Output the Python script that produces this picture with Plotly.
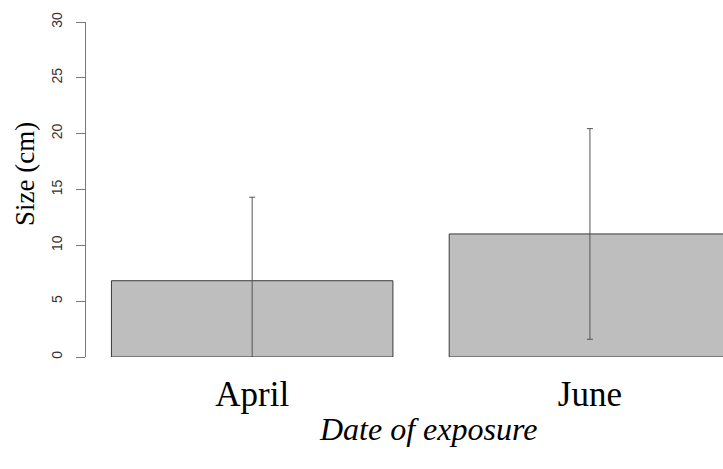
import plotly.graph_objects as go

# Mean size per exposure date, with the error half-widths
categories = ["April", "June"]
mean_size = [6.83, 11.02]
error_size = [7.48, 9.43]
y_ticks = [0, 5, 10, 15, 20, 25, 30]

W, H = 723, 469
L, R, T, B = 86, 0, 22, 112
plot_w = W - L - R
plot_h = H - T - B

fig = go.Figure()
fig.add_trace(go.Bar(
    x=categories,
    y=mean_size,
    width=1 / 1.2,
    marker=dict(color="#BEBEBE", line=dict(color="#3a3a3a", width=1)),
    error_y=dict(type="data", array=error_size, visible=True,
                 color="#555555", thickness=1, width=3),
    showlegend=False,
))

fig.update_layout(
    width=W, height=H,
    margin=dict(l=L, r=R, t=T, b=B),
    plot_bgcolor="white", paper_bgcolor="white",
    xaxis=dict(
        type="category",
        range=[-0.492, 1.394],
        showline=False, showgrid=False, zeroline=False,
        ticks="", ticklen=0,
        tickfont=dict(family="Liberation Serif", size=35, color="black"),
        ticklabelstandoff=13,
    ),
    yaxis=dict(
        range=[0, 30],
        tickvals=y_ticks,
        ticktext=[str(v) for v in y_ticks],
        showline=True, linecolor="#7a7a7a", linewidth=1,
        ticks="outside", ticklen=9, tickcolor="#7a7a7a", tickwidth=1,
        tickangle=-90,
        tickfont=dict(family="Liberation Sans", size=14, color="#333333"),
        ticklabelstandoff=8,
        showgrid=False, zeroline=False,
    ),
    annotations=[
        dict(text="Size (cm)", xref="paper", yref="paper",
             x=(25 - L) / plot_w, y=(H - B - 174) / plot_h,
             xanchor="center", yanchor="middle", textangle=-90,
             showarrow=False,
             font=dict(family="Liberation Serif", size=27, color="black")),
        dict(text="<i>Date of exposure</i>", xref="paper", yref="paper",
             x=(428 - L) / plot_w, y=(H - B - 429) / plot_h,
             xanchor="center", yanchor="middle",
             showarrow=False,
             font=dict(family="Liberation Serif", size=32, color="black")),
    ],
)

fig.write_html("out.html")
